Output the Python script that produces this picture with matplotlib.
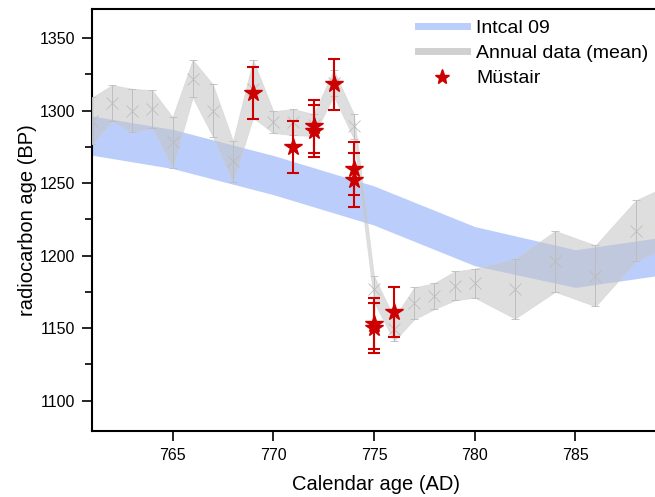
import matplotlib
matplotlib.use("Agg")
import matplotlib.pyplot as plt
from matplotlib.lines import Line2D
import numpy as np

plt.rcParams['font.family'] = ['Liberation Sans', 'DejaVu Sans']

# IntCal09 calibration curve (5-year nodes)
ic_year = [760, 765, 770, 775, 780, 785, 790]
ic_age = [1285, 1273.5, 1255.5, 1234.5, 1206.5, 1191, 1201]
ic_err = [13.5, 13.5, 13.5, 13.5, 13.5, 13, 13]

# annual tree-ring data (mean and 1-sigma)
an_year = [761, 762, 763, 764, 765, 766, 767, 768, 769, 770, 771, 772, 773,
           774, 775, 776, 777, 778, 779, 780, 782, 784, 786, 788, 790]
an_age = [1293, 1305, 1300, 1301, 1278, 1322, 1300, 1265, 1315, 1292, 1292,
          1290, 1319, 1289, 1177, 1149, 1167, 1172, 1179, 1181, 1177, 1196,
          1186, 1217, 1230]
an_err = [16, 12.5, 15, 13, 17.5, 13, 18, 14, 20, 7.5, 9, 7.5, 9, 8.5, 9, 8,
          11, 9, 10, 10, 20.5, 21, 21, 21, 21]

# Müstair measurements
mu_year = [769, 771, 772, 772, 773, 774, 774, 775, 775, 776]
mu_age = [1312, 1275, 1289, 1286, 1318, 1260, 1252, 1153, 1150, 1161]
mu_err = [18, 18, 18, 18, 17.5, 18, 18.5, 17.5, 17.5, 17]

blue = '#bbcdfa'
grey = '#c4c4c4'
red = '#cc0000'

fig = plt.figure(figsize=(6.55, 4.97), dpi=100)
ax = fig.add_axes([92/655, 1 - 431/497, (660 - 92)/655, (431 - 9)/497])

ic_year = np.array(ic_year); ic_age = np.array(ic_age); ic_err = np.array(ic_err)
an_year = np.array(an_year); an_age = np.array(an_age); an_err = np.array(an_err)

ax.fill_between(ic_year, ic_age - ic_err, ic_age + ic_err, color=blue, lw=0, zorder=1)
ax.fill_between(an_year, an_age - an_err, an_age + an_err, color=grey, alpha=0.55,
                lw=0.6, edgecolor='#cfcfcf', zorder=2)
ax.errorbar(an_year, an_age, yerr=an_err, fmt='x', color='#bdbdbd', ms=9, mew=0.6,
            elinewidth=0.7, capsize=3, capthick=0.7, zorder=3)
ax.errorbar(mu_year, mu_age, yerr=mu_err, fmt='*', color=red, ms=13,
            elinewidth=1.5, capsize=4.5, capthick=1.5, zorder=5)

ax.set_xlim(761, 761 + (660 - 92) / 20.14)
ax.set_ylim(1079, 1370)
ax.set_xticks([765, 770, 775, 780, 785])
ax.set_yticks([1100, 1150, 1200, 1250, 1300, 1350])
ax.set_yticks(np.arange(1100, 1370, 25), minor=True)
ax.tick_params(axis='both', which='major', direction='out', length=7, width=1.2,
               labelsize=11.5, pad=5)
ax.tick_params(axis='y', which='minor', direction='out', length=5, width=1.2)
ax.spines['right'].set_visible(False)
for s in ['left', 'bottom', 'top']:
    ax.spines[s].set_linewidth(1.5)

ax.set_xlabel('Calendar age (AD)', fontsize=14.5, labelpad=9)
ax.set_ylabel('radiocarbon age (BP)', fontsize=14.5, labelpad=2)

handles = [Line2D([], [], color=blue, lw=5),
           Line2D([], [], color='#d0d0d0', lw=5),
           Line2D([], [], color=red, marker='*', ls='none', ms=11)]
fig.legend(handles, ['Intcal 09', 'Annual data (mean)', 'Müstair'],
           loc='upper left', bbox_to_anchor=(418/655, 1 - 19/497), frameon=False,
           fontsize=14, handlelength=2.5, handletextpad=0.5, borderpad=0,
           borderaxespad=0, labelspacing=0.4)

fig.savefig('out.png', dpi=100)
